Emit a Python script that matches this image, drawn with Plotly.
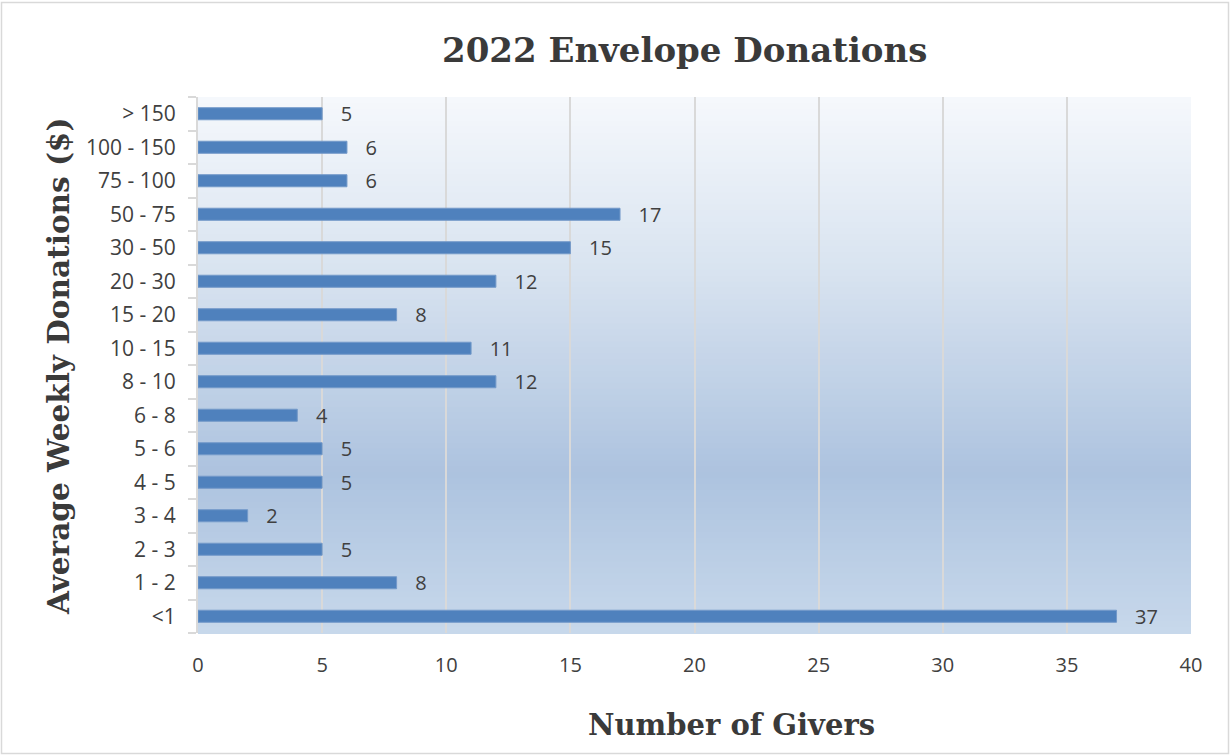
import plotly.graph_objects as go

categories = ["<1", "1 - 2", "2 - 3", "3 - 4", "4 - 5", "5 - 6", "6 - 8", "8 - 10",
              "10 - 15", "15 - 20", "20 - 30", "30 - 50", "50 - 75", "75 - 100",
              "100 - 150", "> 150"]
givers = [37, 8, 5, 2, 5, 5, 4, 12, 11, 8, 12, 15, 17, 6, 6, 5]
x_ticks = [0, 5, 10, 15, 20, 25, 30, 35, 40]

title_text = "2022 Envelope Donations"
x_title = "Number of Givers"
y_title = "Average Weekly Donations ($)"

fig = go.Figure()
fig.add_trace(go.Bar(
    y=categories, x=givers, orientation="h",
    width=0.36,
    marker=dict(color="#4f81bd", line=dict(color="#7399c9", width=1)),
    text=[f"   {v}" for v in givers], textposition="outside",
    constraintext="none",
    textfont=dict(family="Open Sans", size=20, color="#404040"),
    cliponaxis=False,
))

# gradient background (styling)
def hex2rgb(h):
    h = h.lstrip("#")
    return [int(h[i:i+2], 16) for i in (0, 2, 4)]

stops = [(0.0, "#f5f8fc"), (0.30, "#dbe5f1"), (0.70, "#adc3df"), (1.0, "#c7d8eb")]  # frac from top
def color_at(f):
    for (f0, c0), (f1, c1) in zip(stops[:-1], stops[1:]):
        if f0 <= f <= f1:
            t = (f - f0) / (f1 - f0) if f1 > f0 else 0
            a, b = hex2rgb(c0), hex2rgb(c1)
            return "rgb(%d,%d,%d)" % tuple(round(a[i] + (b[i] - a[i]) * t) for i in range(3))
    return stops[-1][1]

n = 90
shapes = []
for i in range(n):
    top = 1 - i / n
    bot = 1 - (i + 1) / n
    shapes.append(dict(type="rect", xref="x domain", yref="y domain",
                       x0=0, x1=1, y0=bot - 0.002, y1=top, layer="below",
                       line=dict(width=0), fillcolor=color_at((i + 0.5) / n)))

L, R, T, B = 198, 40, 97, 122
W, H = 1231, 755

# outer border (in paper coords, pixel-converted)
pw, ph = W - L - R, H - T - B
shapes.append(dict(type="rect", xref="paper", yref="paper",
                   x0=-(L - 1.5) / pw, x1=1 + (R - 2.5) / pw,
                   y0=-(B - 1.5) / ph, y1=1 + (T - 2.5) / ph,
                   layer="above", line=dict(color="#d9d9d9", width=1.5),
                   fillcolor="rgba(0,0,0,0)"))

fig.update_layout(
    width=W, height=H,
    margin=dict(l=L, r=R, t=T, b=B),
    paper_bgcolor="white", plot_bgcolor="rgba(0,0,0,0)",
    showlegend=False,
    shapes=shapes,
    font=dict(family="Open Sans", color="#404040"),
    annotations=[
        dict(text=f"<b>{title_text}</b>", xref="paper", yref="paper",
             x=(684 - L) / pw, y=1 + (T - 50) / ph,
             xanchor="center", yanchor="middle", showarrow=False,
             font=dict(family="DejaVu Serif", size=34, color="#3a3a3a")),
        dict(text=f"<b>{x_title}</b>", xref="paper", yref="paper",
             x=(731 - L) / pw, y=-(725 - (H - B)) / ph,
             xanchor="center", yanchor="middle", showarrow=False,
             font=dict(family="DejaVu Serif", size=29, color="#3a3a3a")),
        dict(text=f"<b>{y_title}</b>", xref="paper", yref="paper",
             x=-(L - 58) / pw, y=(H - B - 367) / ph,
             xanchor="center", yanchor="middle", showarrow=False, textangle=-90,
             font=dict(family="DejaVu Serif", size=29.5, color="#3a3a3a")),
    ],
)
fig.update_xaxes(range=[0, 40], tickvals=x_ticks, showgrid=True,
                 gridcolor="#d9d9d9", gridwidth=2, zeroline=False,
                 showline=False, ticks="outside", ticklen=14,
                 tickcolor="rgba(0,0,0,0)",
                 tickfont=dict(family="Open Sans", size=20, color="#404040"))
fig.update_yaxes(type="category", categoryorder="array", categoryarray=categories,
                 showgrid=False, showline=True, linecolor="#d9d9d9", linewidth=2,
                 ticks="outside", tickson="boundaries", ticklen=8,
                 tickcolor="#d9d9d9", tickwidth=2, ticklabelstandoff=16,
                 tickfont=dict(family="Open Sans", size=21, color="#404040"))

fig.write_html("out.html", post_script="document.body.style.margin='0';",
               config={"displayModeBar": False})
